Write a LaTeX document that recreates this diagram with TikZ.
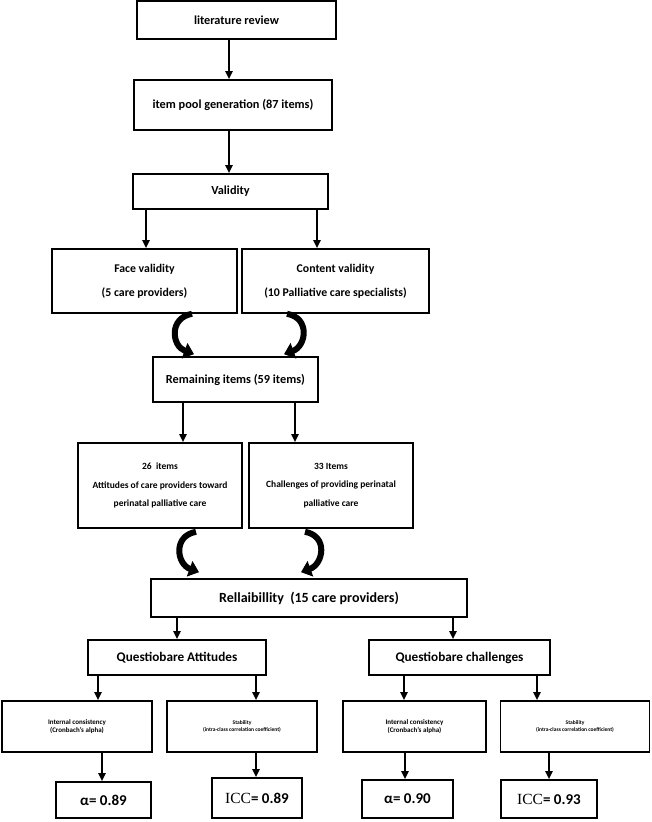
\documentclass[tikz,border=0pt]{standalone}
\usepackage{fontspec}
\setmainfont{Carlito}
\newfontfamily\iccfont{Liberation Serif}
\usetikzlibrary{arrows.meta}
\tikzset{
  box/.style={draw,line width=1.6pt,inner sep=2pt,align=center},
  link/.style={line width=1.8pt,-{Triangle[width=7pt,length=8pt]}},
  turn/.style={line width=6pt,-{Triangle[width=16pt,length=10pt]}},
}
\newcommand{\flowbox}[7]{\node[box,minimum width=#4pt,minimum height=#5pt,font=#6] (#1) at (#2,#3) {#7};}
\newcommand{\vlink}[3]{\draw[link] (#1.south -| #3,0) -- (#2.north -| #3,0);}
\newcommand{\fbig}{\fontsize{12.3}{14}\selectfont\bfseries}
\newcommand{\fmid}{\fontsize{11.8}{24}\selectfont\bfseries}
\newcommand{\fitem}{\fontsize{9.5}{18.5}\selectfont\bfseries}
\newcommand{\frel}{\fontsize{14}{16}\selectfont\bfseries}
\newcommand{\fques}{\fontsize{13.2}{16}\selectfont\bfseries}
\newcommand{\fic}{\fontsize{7}{8.5}\selectfont\bfseries}
\newcommand{\fst}{\fontsize{5.5}{6.5}\selectfont\bfseries}
\newcommand{\fval}{\fontsize{15}{16}\selectfont\bfseries}
\newcommand{\icc}{{\iccfont\fontsize{15.5}{16}\selectfont\mdseries ICC}}
\begin{document}
\begin{tikzpicture}[x=1pt,y=1pt]
\useasboundingbox (0,0) rectangle (652,822);
% item generation
\flowbox{lit}{236.5}{802}{199}{38}{\fbig}{literature review}
\flowbox{pool}{233}{717}{198}{50}{\fbig}{item pool generation (87 items)}
\flowbox{valid}{230.5}{630.5}{195}{35}{\fbig}{Validity}
% validity
\flowbox{face}{144.5}{541}{185}{64}{\fmid}{Face validity\\(5 care providers)}
\flowbox{content}{335.5}{541}{187}{64}{\fmid}{Content validity\\(10 Palliative care specialists)}
\flowbox{remain}{235.5}{442.5}{165}{45}{\fbig}{Remaining items (59 items)}
% the two parts
\flowbox{att}{160}{336.5}{164}{85}{\fitem}{26\ \ items\\Attitudes of care providers toward\\perinatal palliative care}
\flowbox{chal}{331}{336.5}{164}{85}{\fitem}{33 Items\\Challenges of providing perinatal\\palliative care}
% reliability
\flowbox{rel}{309}{224}{316}{38}{\frel}{Rellaibillity\ \ (15 care providers)}
\flowbox{qa}{177}{164.5}{178}{35}{\fques}{Questiobare Attitudes}
\flowbox{qc}{459.5}{164.5}{181}{35}{\fques}{Questiobare challenges}
\flowbox{ic1}{77}{95.5}{150}{51}{\fic}{Internal consistency\\(Cronbach’s alpha)}
\flowbox{st1}{242}{95.5}{150}{51}{\fst}{Stability\\(intra-class correlation coefficient)}
\flowbox{ic2}{414.5}{95.5}{143}{51}{\fic}{Internal consistency\\(Cronbach’s alpha)}
\flowbox{st2}{575}{95.5}{149}{51}{\fst}{Stability\\(intra-class correlation coefficient)}
% values
\flowbox{a1}{103.5}{22}{95}{36}{\fval}{α= 0.89}
\flowbox{icc1}{257}{24}{90}{40}{\fval}{\icc= 0.89}
\flowbox{a2}{407.5}{23}{91}{38}{\fval}{α= 0.90}
\flowbox{icc2}{549}{23}{96}{38}{\fval}{\icc= 0.93}
% straight arrows
\vlink{lit}{pool}{229}
\vlink{pool}{valid}{229}
\vlink{valid}{face}{146}
\vlink{valid}{content}{317}
\vlink{remain}{att}{183}
\vlink{remain}{chal}{295}
\vlink{rel}{qa}{177}
\vlink{rel}{qc}{453}
\vlink{qa}{ic1}{98}
\vlink{qa}{st1}{256}
\vlink{qc}{ic2}{404}
\vlink{qc}{st2}{537}
\vlink{ic1}{a1}{102}
\vlink{st1}{icc1}{256}
\vlink{ic2}{a2}{405}
\vlink{st2}{icc2}{549}
% curved arrows
\draw[turn] ([xshift=47.5pt]face.south) to[out=190,in=160,looseness=1.5] ([xshift=-41.5pt,yshift=2pt]remain.north);
\draw[turn] ([xshift=-48.5pt]content.south) to[out=-10,in=20,looseness=1.5] ([xshift=48.5pt,yshift=2pt]remain.north);
\draw[turn] ([xshift=36pt,yshift=-3pt]att.south) to[out=190,in=160,looseness=1.5] ([xshift=-110pt,yshift=6pt]rel.north);
\draw[turn] ([xshift=-26pt,yshift=-3pt]chal.south) to[out=-10,in=20,looseness=1.5] ([xshift=-8pt,yshift=6pt]rel.north);
\end{tikzpicture}
\end{document}
